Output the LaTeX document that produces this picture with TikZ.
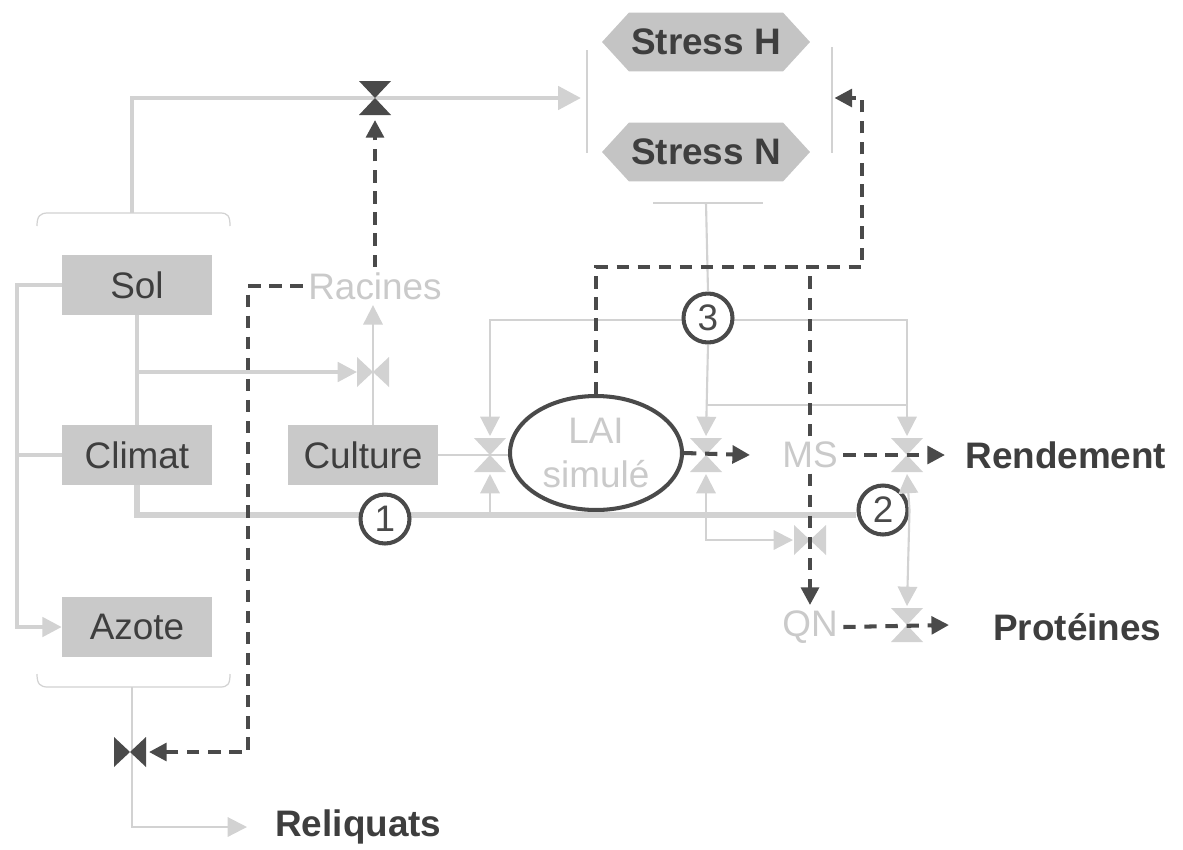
\documentclass[tikz,border=0pt]{standalone}
\usepackage{fontspec}
\setmainfont{Liberation Sans}
\usetikzlibrary{arrows.meta,shapes.geometric,shapes.symbols,calc}
\definecolor{boxfill}{HTML}{C9C9C9}
\definecolor{boxtext}{HTML}{3E3E3E}
\definecolor{lightline}{HTML}{D2D2D2}
\definecolor{lighttext}{HTML}{CACACA}
\definecolor{darkc}{HTML}{4A4A4A}
\definecolor{stressfill}{HTML}{C4C4C4}
\tikzset{
  bigfont/.style={font=\fontsize{21}{25}\selectfont},
  box/.style={bigfont, fill=boxfill, text=boxtext, minimum width=3cm, minimum height=1.2cm, inner sep=0pt},
  ltext/.style={bigfont, text=lighttext, inner sep=3pt},
  outtext/.style={font=\fontsize{21}{25}\selectfont\bfseries, text=boxtext, inner sep=0pt, anchor=west},
  stress/.style={signal, signal to=west and east, signal pointer angle=95, fill=stressfill,
    minimum width=4.16cm, minimum height=1.18cm, inner sep=0pt,
    font=\fontsize{21}{25}\selectfont\bfseries, text=boxtext},
  num/.style={circle, draw=darkc, line width=2.3pt, fill=white, minimum size=0.98cm, inner sep=0pt,
    text=darkc, font=\fontsize{21}{25}\selectfont},
  thickl/.style={draw=lightline, line width=3.4pt},
  topl/.style={draw=lightline, line width=2.8pt},
  medl/.style={draw=lightline, line width=2.2pt},
  thinl/.style={draw=lightline, line width=1.2pt},
  hair/.style={draw=lightline, line width=0.7pt},
  lt/.style={-{Triangle[length=11pt,width=11pt,fill=lightline]}},
  ltbig/.style={-{Triangle[length=13pt,width=13pt,fill=lightline]}},
  ltboth/.style={{Triangle[length=11pt,width=11pt,fill=lightline]}-{Triangle[length=11pt,width=11pt,fill=lightline]}},
  dashk/.style={draw=darkc, line width=2.3pt, dash pattern=on 7pt off 5pt},
  dk/.style={-{Triangle[length=10pt,width=10pt,fill=darkc]}},
  hourglass/.pic={\fill (-16,-17) -- (16,-17) -- (0,0) -- cycle; \fill (-16,17) -- (16,17) -- (0,0) -- cycle;},
  bowtieh/.pic={\fill (-16,-15) -- (-16,15) -- (0,0) -- cycle; \fill (16,-15) -- (16,15) -- (0,0) -- cycle;}
}
\begin{document}
\begin{tikzpicture}[x=0.02cm, y=-0.02cm]
\useasboundingbox[fill=white] (0,0) rectangle (1183,849);

% nodes
\node[box] (sol) at (137,285) {Sol};
\node[box] (climat) at (137,455) {Climat};
\node[box] (azote) at (137,627) {Azote};
\node[box] (culture) at (363,455) {Culture};
\node[ltext] (racines) at (375,286) {Racines};
\node[ellipse, draw=darkc, line width=2.3pt, minimum width=3.44cm, minimum height=2.28cm, inner sep=0pt,
      align=center, text=lighttext, font=\fontsize{21}{25}\selectfont] (lai) at (596,453) {LAI\\simulé};
\node[ltext] (qn) at (810,627) {QN};
\node[outtext] (rend) at (965,455) {Rendement};
\node[outtext] (prot) at (993,627) {Protéines};
\node[outtext] (reliq) at (275,827) {Reliquats};
\node[stress] (sH) at (706,42) {Stress H};
\node[stress] (sN) at (706,152) {Stress N};

% coordinates
\coordinate (bt) at (132,213);
\coordinate (bb) at (132,687);
\coordinate (sbot) at (706,203);
\coordinate (vtop) at (375,98);
\coordinate (vrel) at (130,752);
\coordinate (vrac) at (373,372);
\coordinate (vlai) at (490,455);
\coordinate (vms) at (706,455);
\coordinate (vrend) at (907,455);
\coordinate (vqn) at (810,540);
\coordinate (vprot) at (907,625);

% braces
\draw[hair] (37,226) .. controls (37,216) and (40,213) .. (48,213) -- (220,213) .. controls (228,213) and (230,216) .. (230,226);
\draw[hair] (37,674) .. controls (37,684) and (40,687) .. (48,687) -- (220,687) .. controls (228,687) and (230,684) .. (230,674);

% stress bracket
\draw[hair] (587,50) -- (587,153);
\draw[hair] (832,47) -- (832,153);
\draw[hair] (653,203) -- (763,203);

% light connectors
\draw[topl, ltbig] (bt) |- ($(vtop)+(206,0)$);
\draw[thinl, lt] (bb) |- ($(reliq.west)+(-28,0)$);
\draw[medl, lt] (sol.west) -- ++(-45,0) |- (azote.west);
\draw[medl] (climat.west) -- ++(-45,0);
\draw[medl] (sol.south) -- (climat.north);
\draw[medl, lt] (sol.south |- vrac) -- ($(vrac)+(-16,0)$);
\draw[thinl, lt] (vrac |- culture.north) -- (vrac |- racines.south);
\draw[thinl] (culture.east) -- (culture.east -| lai.west);
\draw[thinl, ltboth] ($(vlai)+(0,-19)$) -- ($(vlai)+(0,-135)$) -| ($(vrend)+(0,-19)$);
\draw[thinl, lt] ($(vlai)+(0,60)$) -- ($(vlai)+(0,19)$);
\draw[thinl] ($(vms)+(0,-50)$) -- ($(vrend)+(0,-50)$);
\draw[thinl, ltboth] ($(vms)+(0,19)$) |- ($(vqn)+(-17,0)$);

% circles and main line
\node[num] (c3) at (708,318) {3};
\draw[thinl] (sbot) -- (c3.north);
\draw[thinl, lt] (c3.south) -- ($(vms)+(0,-19)$);
\node[num] (c2) at (883,510) {2};
\draw[thickl] (climat.south) |- ($(c2.west)+(0,5)$);
\node[num] (c1) at (385,519) {1};
\draw[thinl, lt] (c2.east) -- ($(vrend)+(0,19)$);
\draw[thinl, lt] (c2.east) -- ($(vprot)+(0,-19)$);

% valves
\pic[color=darkc] at (vtop) {hourglass};
\pic[color=darkc] at (vrel) {bowtieh};
\pic[color=lightline] at (vrac) {bowtieh};
\pic[color=lightline] at (vlai) {hourglass};
\pic[color=lightline] at (vms) {hourglass};
\pic[color=lightline] at (vrend) {hourglass};
\pic[color=lightline] at (vqn) {bowtieh};
\pic[color=lightline] at (vprot) {hourglass};

% MS node (white, hides dashed line)
\node[ltext, fill=white] (ms) at (810,455) {MS};

% dark dashed connectors
\draw[dashk, dk] (racines.north) -- ($(vtop)+(0,22)$);
\draw[dashk, dk] (racines.west) -| ($(vrel)+(118,0)$) -- ($(vrel)+(19,0)$);
\draw[dashk, dk] (lai.north) -- ++(0,-127) -| ($(sH.east)+(52,56)$) -- ($(sH.east)+(24,56)$);
\draw[dashk] (ms.north) -- ++(0,-167);
\draw[dashk, dk] (ms.south) -- (qn.north);
\draw[dashk, dk] (lai.east) -- ($(vms)+(44,0)$);
\draw[dashk, dk] (ms.east) -- ($(vrend)+(38,0)$);
\draw[dashk, dk] (qn.east) -- ($(vprot)+(42,0)$);
\end{tikzpicture}
\end{document}
